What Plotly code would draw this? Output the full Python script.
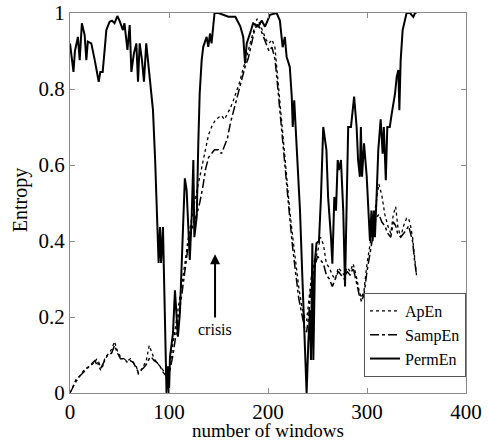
import plotly.graph_objects as go

# ---------------- data ----------------
perm_x = [0, 2, 3.5, 5, 6.4, 8, 9.8, 12, 14.8, 16.5, 18, 21.5, 25, 27.6, 29, 30.6, 33, 35, 36.7, 40,
          42.4, 45, 47.8, 50, 53.5, 55, 58, 60.3, 62, 64.6, 67, 68.7, 70.4, 72.7, 74.7, 77, 78.8, 80.5,
          83.8, 86, 88, 89.5, 90.9, 92, 93.9, 95, 96.6, 97.5, 99, 100, 101, 104, 106, 107.7, 109, 111,
          112, 114, 116, 117.8, 119.5, 121, 122.9, 124.6, 125.6, 128, 129.6, 131, 133, 134.6, 138,
          139.7, 141.4, 143, 146, 150, 160, 167, 172, 175, 176.8, 178.5, 181.8, 185, 190, 193.6, 197,
          202, 208.7, 212, 214.8, 217, 218.8, 222, 224, 225, 226.5, 229, 232.3, 234.7, 236.7, 238, 239,
          240.7, 242.4, 243.4, 244.8, 245.8, 247.5, 249, 251.5, 253.5, 255.8, 259, 260.7, 263.6, 265,
          267, 268.7, 270.4, 271.7, 273.7, 276, 277.8, 279.5, 281, 283.8, 285, 287, 289.5, 291, 292.8,
          293.8, 295, 297, 299.7, 301.3, 303, 304.5, 305.7, 307, 308, 309.8, 311.4, 313.8, 315.8, 317,
          319, 320.5, 323, 325, 326.6, 328.3, 330, 331.7, 332.7, 334, 336, 338.4, 340, 343.4, 346.8,
          348.5, 350]
perm_y = [0.92, 0.876, 0.845, 0.9, 0.92, 0.937, 0.876, 0.973, 0.942, 0.876, 0.925, 0.92, 0.876, 0.845,
          0.819, 0.845, 0.845, 0.903, 0.955, 0.977, 0.98, 0.973, 0.992, 0.98, 0.955, 0.973, 0.903,
          0.968, 0.845, 0.894, 0.92, 0.819, 0.92, 0.876, 0.819, 0.92, 0.876, 0.819, 0.745, 0.613,
          0.463, 0.342, 0.437, 0.342, 0.437, 0.3, 0.15, 0.0, 0.07, 0.0, 0.095, 0.157, 0.27, 0.2, 0.148,
          0.21, 0.288, 0.464, 0.565, 0.534, 0.41, 0.35, 0.464, 0.613, 0.41, 0.464, 0.657, 0.788, 0.876,
          0.911, 0.937, 0.911, 0.946, 0.92, 1.0, 1.0, 0.99, 0.99, 0.965, 0.937, 0.867, 0.92, 0.946,
          0.973, 0.964, 0.98, 0.964, 0.995, 1.0, 0.98, 0.91, 0.937, 0.885, 0.858, 0.78, 0.7, 0.77,
          0.66, 0.481, 0.306, 0.174, 0.043, 0.0, 0.13, 0.218, 0.087, 0.394, 0.087, 0.35, 0.394, 0.4,
          0.516, 0.7, 0.64, 0.516, 0.411, 0.34, 0.516, 0.48, 0.613, 0.587, 0.613, 0.48, 0.28, 0.525,
          0.7, 0.7, 0.727, 0.78, 0.7, 0.613, 0.569, 0.7, 0.569, 0.657, 0.57, 0.5, 0.4, 0.48, 0.4, 0.48,
          0.41, 0.525, 0.64, 0.72, 0.63, 0.7, 0.56, 0.7, 0.7, 0.735, 0.762, 0.788, 0.832, 0.85, 0.744,
          0.876, 0.955, 0.98, 1.0, 1.0, 0.99, 1.0, 1.0]

en_x = [0, 3, 6, 10, 14, 18, 22, 25, 27, 29, 31, 33, 35, 38, 42, 45, 48, 51, 55, 58, 61, 64, 67, 69,
        71, 74, 77, 80, 82, 85, 88, 91, 94, 97, 99, 101, 104, 107, 110, 113, 116, 119, 122, 125, 128,
        131, 134, 137, 140, 143, 146, 150, 153, 156, 159, 162, 165, 168, 171, 174, 177, 180, 183, 186,
        189, 192, 195, 198, 201, 204, 207, 210, 213, 216, 219, 222, 225, 228, 231, 234, 237, 239, 241,
        244, 247, 250, 253, 256, 259, 262, 265, 268, 271, 274, 277, 280, 283, 286, 289, 292, 294.5,
        297, 300, 303, 306, 309, 312, 315, 318, 321, 324, 326.6, 329, 331, 334, 337, 340, 342, 344,
        346, 348, 350]
apen_y = [0.0, 0.02, 0.035, 0.045, 0.06, 0.068, 0.075, 0.08, 0.09, 0.07, 0.06, 0.07, 0.09, 0.1, 0.115,
          0.135, 0.11, 0.095, 0.09, 0.085, 0.09, 0.08, 0.07, 0.05, 0.055, 0.07, 0.085, 0.125, 0.11,
          0.09, 0.08, 0.07, 0.06, 0.05, 0.05, 0.07, 0.13, 0.18, 0.23, 0.28, 0.34, 0.4, 0.45, 0.49,
          0.53, 0.57, 0.61, 0.65, 0.68, 0.7, 0.715, 0.725, 0.73, 0.72, 0.735, 0.75, 0.77, 0.79, 0.815,
          0.845, 0.87, 0.9, 0.93, 0.96, 0.985, 0.97, 0.95, 0.93, 0.92, 0.93, 0.91, 0.82, 0.73, 0.64,
          0.56, 0.48, 0.41, 0.34, 0.28, 0.23, 0.2, 0.19, 0.24, 0.31, 0.35, 0.37, 0.41, 0.39, 0.34,
          0.33, 0.31, 0.3, 0.33, 0.32, 0.31, 0.33, 0.32, 0.34, 0.31, 0.27, 0.25, 0.27, 0.34, 0.39,
          0.44, 0.5, 0.55, 0.52, 0.47, 0.44, 0.42, 0.47, 0.49, 0.44, 0.41, 0.44, 0.46, 0.46, 0.44,
          0.41, 0.36, 0.31]
sampen_y = [0.0, 0.015, 0.03, 0.045, 0.055, 0.065, 0.075, 0.085, 0.075, 0.08, 0.065, 0.075, 0.085, 0.1,
            0.105, 0.125, 0.105, 0.09, 0.09, 0.08, 0.085, 0.08, 0.065, 0.055, 0.06, 0.065, 0.075, 0.09,
            0.095, 0.085, 0.08, 0.07, 0.055, 0.045, 0.05, 0.06, 0.1, 0.15, 0.2, 0.26, 0.32, 0.38, 0.42,
            0.45, 0.47, 0.5, 0.54, 0.59, 0.62, 0.63, 0.64, 0.64, 0.63, 0.65, 0.67, 0.71, 0.74, 0.77,
            0.8, 0.83, 0.86, 0.88, 0.92, 0.95, 0.97, 0.96, 0.94, 0.92, 0.9, 0.91, 0.88, 0.8, 0.71, 0.62,
            0.54, 0.46, 0.38, 0.31, 0.25, 0.21, 0.17, 0.16, 0.2, 0.3, 0.33, 0.36, 0.35, 0.34, 0.31, 0.3,
            0.28, 0.3, 0.32, 0.31, 0.3, 0.32, 0.31, 0.33, 0.29, 0.26, 0.24, 0.26, 0.32, 0.37, 0.42,
            0.46, 0.47, 0.45, 0.44, 0.42, 0.41, 0.45, 0.44, 0.42, 0.41, 0.42, 0.43, 0.44, 0.42, 0.4,
            0.35, 0.31]

x_ticks = [0, 100, 200, 300, 400]
y_ticks = [0, 0.2, 0.4, 0.6, 0.8, 1]
y_tick_text = ["0", "0.2", "0.4", "0.6", "0.8", "1"]
crisis_x = 146.5

FONT = "Liberation Serif"

fig = go.Figure()
fig.add_trace(go.Scatter(x=en_x, y=apen_y, mode="lines", name="ApEn",
                         line=dict(color="black", width=1.3, dash="dot")))
fig.add_trace(go.Scatter(x=en_x, y=sampen_y, mode="lines", name="SampEn",
                         line=dict(color="black", width=1.5, dash="dashdot")))
fig.add_trace(go.Scatter(x=perm_x, y=perm_y, mode="lines", name="PermEn",
                         line=dict(color="black", width=2)))

fig.add_annotation(x=crisis_x, y=0.168, xref="x", yref="y", text="crisis", showarrow=False,
                   font=dict(family=FONT, size=16, color="black"))
fig.add_annotation(x=crisis_x, y=0.365, ax=crisis_x, ay=0.195, xref="x", yref="y",
                   axref="x", ayref="y", text="", showarrow=True, arrowhead=2,
                   arrowsize=1, arrowwidth=2, arrowcolor="black")

# axis titles placed as paper annotations for exact positioning
fig.add_annotation(x=0.5, y=-0.1325, xref="paper", yref="paper", text="number of windows",
                   showarrow=False, xanchor="center", yanchor="bottom",
                   font=dict(family=FONT, size=19, color="black"))
fig.add_annotation(x=-0.123, y=0.508, xref="paper", yref="paper", text="Entropy",
                   showarrow=False, xanchor="center", yanchor="middle", textangle=-90,
                   font=dict(family=FONT, size=20, color="black"))

axis_common = dict(showgrid=False, zeroline=False, showline=True, linecolor="#8a8a8a",
                   linewidth=1, mirror="ticks", ticks="inside", ticklen=5, tickcolor="#8a8a8a",
                   automargin=False,
                   tickfont=dict(family=FONT, size=21, color="black"))

fig.update_layout(
    width=489, height=444,
    margin=dict(l=70, r=23, t=13, b=51),
    paper_bgcolor="white", plot_bgcolor="white",
    font=dict(family=FONT, color="black"),
    xaxis=dict(range=[0, 400], tickvals=x_ticks, **axis_common),
    yaxis=dict(range=[0, 1], tickvals=y_ticks, ticktext=y_tick_text, **axis_common),
    legend=dict(x=1, xanchor="right", y=0.042, yanchor="bottom",
                bgcolor="white", bordercolor="#555555", borderwidth=1,
                font=dict(family=FONT, size=16, color="black"),
                tracegroupgap=0, itemwidth=30),
    showlegend=True,
)

fig.write_html("out.html", config={"displayModeBar": False},
               post_script="document.body.style.margin='0';document.body.style.overflow='hidden';")
